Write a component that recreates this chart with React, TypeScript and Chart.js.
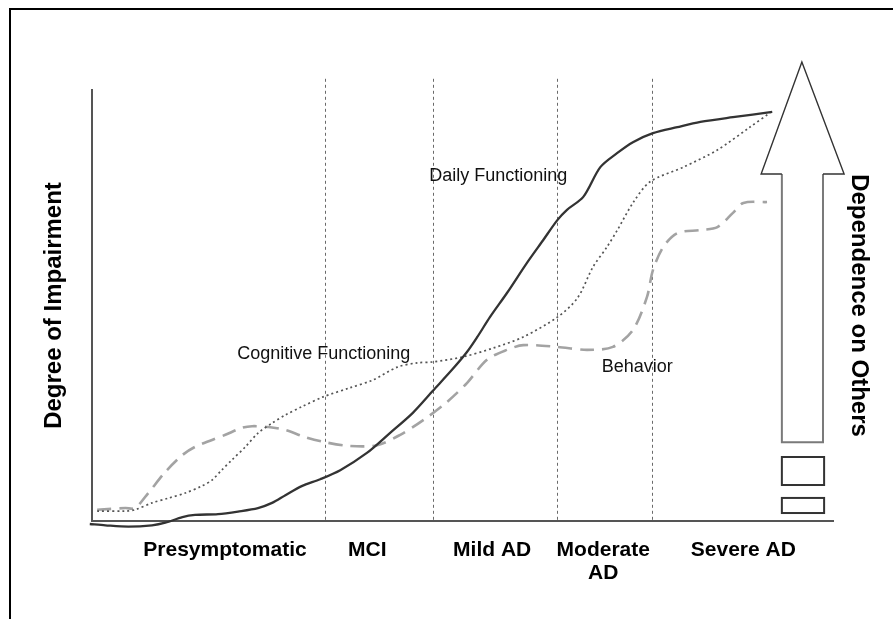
import React, { useEffect, useRef } from "react";
import { Chart, registerables } from "chart.js";

Chart.register(...registerables);

// ---- Data (progression 0–100 on x, impairment 0–100 on y) ----
const dailyX = [-0.3, 1.8, 4.9, 8.1, 9.9, 12.2, 13.9, 17.0, 19.7, 22.4, 24.3, 26.1, 28.3, 30.8, 33.5, 37.1, 40.2, 43.3, 46.0, 48.7, 50.6, 52.0, 53.7, 56.0, 58.7, 60.9, 62.8, 64.1, 66.3, 68.6, 70.9, 73.0, 75.7, 79.0, 82.1, 86.5, 91.8];
const dailyY = [-0.7, -1.0, -1.3, -1.0, -0.4, 0.9, 1.4, 1.6, 2.2, 3.0, 4.2, 6.0, 8.1, 9.7, 11.8, 15.8, 20.4, 25.1, 30.2, 35.3, 39.2, 42.7, 47.3, 52.9, 59.9, 65.2, 69.8, 72.2, 75.2, 82.1, 85.4, 87.9, 90.0, 91.4, 92.6, 93.7, 94.9];

const cognitiveX = [0.7, 4.5, 5.8, 8.1, 10.3, 12.6, 14.8, 16.2, 17.5, 18.9, 20.7, 22.4, 24.3, 26.1, 28.3, 31.2, 34.8, 37.9, 41.2, 43.9, 46.0, 50.1, 54.1, 58.2, 62.8, 65.5, 67.6, 69.5, 70.9, 73.0, 75.3, 79.8, 84.4, 88.8, 91.5];
const cognitiveY = [2.3, 2.3, 2.6, 4.2, 5.3, 6.5, 8.1, 9.5, 11.8, 14.2, 17.2, 20.4, 22.7, 24.6, 26.5, 28.8, 30.9, 32.7, 35.7, 36.7, 36.9, 38.1, 40.1, 42.7, 47.3, 51.7, 58.9, 63.6, 67.5, 73.8, 78.7, 82.1, 86.1, 91.4, 94.7];

const behaviorX = [0.7, 4.5, 5.8, 7.6, 9.9, 12.2, 13.9, 16.2, 18.0, 20.2, 21.6, 23.8, 26.1, 28.7, 31.4, 34.8, 38.5, 41.6, 44.7, 47.9, 50.6, 53.3, 56.0, 58.2, 62.8, 66.8, 70.3, 73.0, 74.9, 75.7, 77.1, 79.0, 82.1, 84.4, 86.5, 87.9, 91.1];
const behaviorY = [2.6, 3.0, 3.0, 6.5, 11.4, 15.3, 17.2, 18.8, 20.0, 21.6, 22.0, 21.8, 21.1, 19.5, 18.3, 17.4, 17.6, 20.0, 23.4, 27.6, 32.0, 37.4, 39.7, 40.8, 40.4, 39.7, 40.4, 44.3, 52.0, 58.2, 63.6, 66.8, 67.5, 68.2, 71.5, 73.8, 74.0];

const stageLabels: (string | string[])[] = ["Presymptomatic", "MCI", "Mild AD", ["Moderate", "AD"], "Severe AD"];
const stageLabelPositions = [17.95, 37.15, 54.0, 69.0, 87.9];
const stageBoundaries = [31.4, 46.0, 62.8, 75.6];
const boundaryTop = 102.6;

const curveLabels = ["Daily Functioning", "Cognitive Functioning", "Behavior"];
const curveLabelX = [45.5, 19.6, 68.8];
const curveLabelY = [78.9, 37.6, 34.6];

const yTitle = "Degree of Impairment";
const rightTitle = "Dependence on Others";

// dependence arrow (data units) and boxes
const arrowShaftX = [93.1, 98.65];
const arrowHeadX = [90.3, 101.5];
const arrowTipX = 95.8;
const arrowShaftBottom = 18.3;
const arrowHeadBase = 80.5;
const arrowTipY = 106.5;
const boxX = [93.1, 98.8];
const boxYs = [[8.35, 14.85], [1.85, 5.35]];

const FONT = '"Liberation Sans", Arial, Helvetica, sans-serif';

const toPoints = (xs: number[], ys: number[]) => xs.map((x, i) => ({ x, y: ys[i] }));

const overlayPlugin = {
  id: "overlay",
  beforeDatasetsDraw(chart: any) {
    const { ctx, scales } = chart;
    const xs = scales.x;
    const ys = scales.y;
    ctx.save();
    ctx.strokeStyle = "#6a6a6a";
    ctx.lineWidth = 1;
    ctx.setLineDash([3, 3]);
    stageBoundaries.forEach((b) => {
      const px = Math.round(xs.getPixelForValue(b)) + 0.5;
      ctx.beginPath();
      ctx.moveTo(px, ys.getPixelForValue(boundaryTop));
      ctx.lineTo(px, ys.getPixelForValue(0));
      ctx.stroke();
    });
    ctx.restore();
  },
  afterDraw(chart: any) {
    const { ctx, scales } = chart;
    const xs = scales.x;
    const ys = scales.y;
    const X = (v: number) => xs.getPixelForValue(v);
    const Y = (v: number) => ys.getPixelForValue(v);
    ctx.save();
    // curve labels
    ctx.font = `18px ${FONT}`;
    ctx.fillStyle = "#111";
    ctx.textBaseline = "alphabetic";
    ctx.textAlign = "left";
    curveLabels.forEach((t, i) => ctx.fillText(t, X(curveLabelX[i]), Y(curveLabelY[i])));

    // arrow
    ctx.setLineDash([]);
    ctx.lineJoin = "miter";
    ctx.strokeStyle = "#7a7a7a";
    ctx.lineWidth = 2;
    ctx.beginPath();
    ctx.moveTo(X(arrowShaftX[0]), Y(arrowHeadBase));
    ctx.lineTo(X(arrowShaftX[0]), Y(arrowShaftBottom));
    ctx.lineTo(X(arrowShaftX[1]), Y(arrowShaftBottom));
    ctx.lineTo(X(arrowShaftX[1]), Y(arrowHeadBase));
    ctx.stroke();
    ctx.strokeStyle = "#333";
    ctx.lineWidth = 1.4;
    ctx.beginPath();
    ctx.moveTo(X(arrowShaftX[0]), Y(arrowHeadBase));
    ctx.lineTo(X(arrowHeadX[0]), Y(arrowHeadBase));
    ctx.lineTo(X(arrowTipX), Y(arrowTipY));
    ctx.lineTo(X(arrowHeadX[1]), Y(arrowHeadBase));
    ctx.lineTo(X(arrowShaftX[1]), Y(arrowHeadBase));
    ctx.stroke();

    // boxes
    ctx.strokeStyle = "#333";
    ctx.lineWidth = 2;
    boxYs.forEach(([b, t]) => {
      ctx.strokeRect(X(boxX[0]), Y(t), X(boxX[1]) - X(boxX[0]), Y(b) - Y(t));
    });
    ctx.restore();
  },
};

export default function App() {
  const ref = useRef<HTMLCanvasElement | null>(null);

  useEffect(() => {
    if (!ref.current) return;
    const chart = new Chart(ref.current, {
      type: "line",
      data: {
        datasets: [
          {
            label: "Daily Functioning",
            data: toPoints(dailyX, dailyY),
            borderColor: "#333",
            borderWidth: 2.3,
            pointRadius: 0,
            tension: 0.3,
            clip: false as any,
          },
          {
            label: "Cognitive Functioning",
            data: toPoints(cognitiveX, cognitiveY),
            borderColor: "#555",
            borderWidth: 1.7,
            borderDash: [2, 3],
            pointRadius: 0,
            tension: 0.3,
            clip: false as any,
          },
          {
            label: "Behavior",
            data: toPoints(behaviorX, behaviorY),
            borderColor: "#a3a3a3",
            borderWidth: 2.6,
            borderDash: [14, 8],
            pointRadius: 0,
            tension: 0.3,
            clip: false as any,
          },
        ],
      },
      options: {
        responsive: false,
        devicePixelRatio: 1,
        animation: false,
        layout: { padding: { top: 90, left: 0, right: 0, bottom: 0 } },
        plugins: { legend: { display: false }, tooltip: { enabled: false } },
        scales: {
          x: {
            type: "linear",
            min: 0,
            max: 100,
            grid: { display: false, drawTicks: false },
            border: { display: true, color: "#555", width: 2 },
            afterBuildTicks: (scale: any) => {
              scale.ticks = stageLabelPositions.map((v) => ({ value: v }));
            },
            afterFit: (scale: any) => {
              scale.height = 98;
            },
            ticks: {
              autoSkip: false,
              maxRotation: 0,
              minRotation: 0,
              padding: 17,
              color: "#000",
              font: { family: FONT, size: 21, weight: "bold", lineHeight: 1.12 },
              callback: (_v: any, i: number) => stageLabels[i],
            },
          },
          y: {
            type: "linear",
            min: 0,
            max: 100,
            position: "left",
            grid: { display: false, drawTicks: false },
            border: { display: true, color: "#555", width: 2 },
            ticks: { display: false },
            afterFit: (scale: any) => {
              scale.width = 92;
            },
            title: {
              display: true,
              text: yTitle,
              color: "#000",
              font: { family: FONT, size: 24, weight: "bold", lineHeight: 1.2 },
              padding: { top: 39.6, bottom: 0 },
            },
          },
          y2: {
            type: "linear",
            min: 0,
            max: 100,
            position: "right",
            grid: { display: false, drawTicks: false },
            border: { display: false },
            ticks: { display: false },
            afterFit: (scale: any) => {
              scale.width = 60;
            },
            title: {
              display: true,
              text: rightTitle,
              color: "#000",
              font: { family: FONT, size: 24, weight: "bold", lineHeight: 1.2 },
              padding: { top: 19.6, bottom: 0 },
            },
          },
        },
      } as any,
      plugins: [overlayPlugin],
    });
    return () => chart.destroy();
  }, []);

  return (
    <>
      <div
        style={{
          position: "fixed",
          left: 9,
          top: 8,
          width: 2000,
          height: 2000,
          borderTop: "2px solid #000",
          borderLeft: "2px solid #000",
        }}
      />
      <canvas
        ref={ref}
        width={893}
        height={619}
        style={{ position: "fixed", left: 0, top: 0, width: 893, height: 619 }}
      />
    </>
  );
}
